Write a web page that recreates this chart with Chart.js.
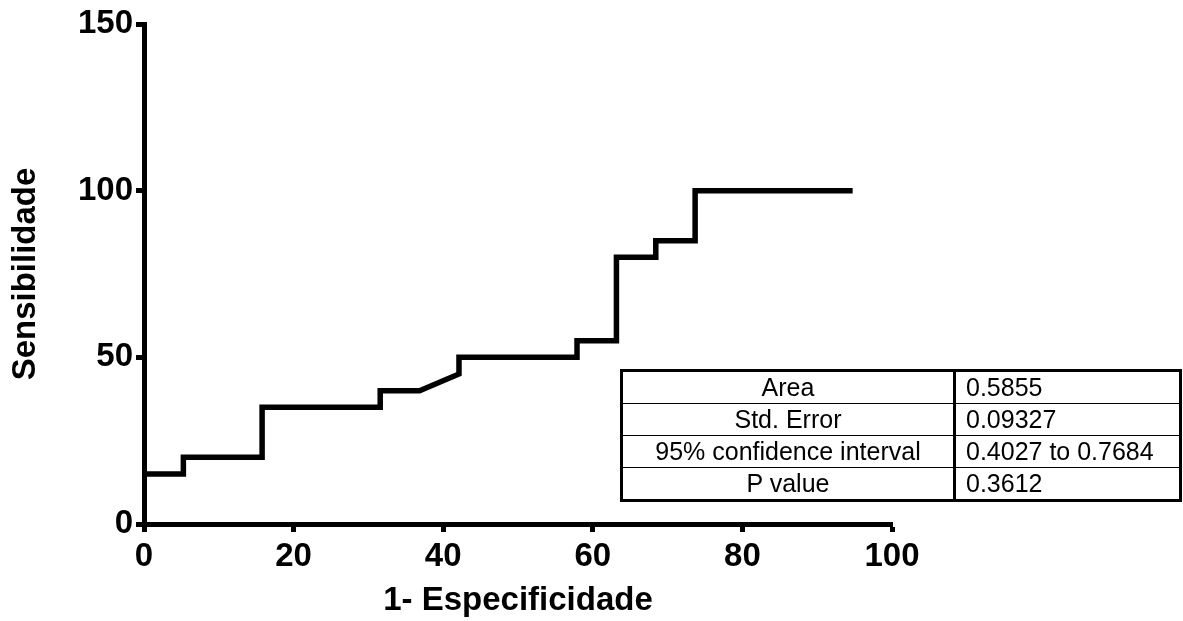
<!DOCTYPE html>
<html>
<head>
<meta charset="utf-8">
<script src="https://cdn.jsdelivr.net/npm/chart.js@4.4.0/dist/chart.umd.min.js"></script>
<style>
  body { margin: 0; background: #fff; }
  #wrap { position: relative; width: 1183px; height: 621px; }
  #roc { position: absolute; left: 0; top: 0; }
  #stats {
    position: absolute; left: 620px; top: 369px; width: 562px; height: 131px;
    border-collapse: collapse; border: 3px solid #000;
    font-family: Arial, "Liberation Sans", sans-serif; font-size: 25px; color: #000;
  }
  #stats td { border-top: 1.5px solid #000; padding: 0 10px; height: 31px; line-height: 31px; white-space: nowrap; }
  #stats td.lab { text-align: center; width: 310px; border-right: 3px solid #000; }
  #stats td.val { text-align: left; }
</style>
</head>
<body>
<div id="wrap">
  <canvas id="roc" width="1183" height="621"></canvas>
  <table id="stats"></table>
</div>
<script>
// 1 - especificidade (%) and sensibilidade (%) for each point of the ROC curve
var xValues = [0, 5.263, 5.263, 15.79, 15.79, 31.58, 31.58, 36.84, 42.11, 42.11, 57.89, 57.89, 63.16, 63.16, 68.42, 68.42, 73.68, 73.68, 94.74];
var yValues = [15, 15, 20, 20, 35, 35, 40, 40, 45, 50, 50, 55, 55, 80, 80, 85, 85, 100, 100];

var xTicks = [0, 20, 40, 60, 80, 100];
var yTicks = [0, 50, 100, 150];

var statLabels = ["Area", "Std. Error", "95% confidence interval", "P value"];
var statValues = ["0.5855", "0.09327", "0.4027 to 0.7684", "0.3612"];

var table = document.getElementById("stats");
table.innerHTML = statLabels.map((lab, i) => `
    <tr><td class="lab">${lab}</td><td class="val">${statValues[i]}</td></tr>
`).join('');

var points = xValues.map((x, i) => ({ x: x, y: yValues[i] }));

var tickFont = { family: 'Arial, "Liberation Sans", sans-serif', size: 33, weight: 'bold' };
var titleFont = { family: 'Arial, "Liberation Sans", sans-serif', size: 33, weight: 'bold' };

var ctx = document.getElementById('roc').getContext('2d');
new Chart(ctx, {
    type: 'scatter',
    data: {
        datasets: [{
            data: points,
            showLine: true,
            borderColor: '#000',
            borderWidth: 5.5,
            borderJoinStyle: 'miter',
            borderCapStyle: 'butt',
            pointRadius: 0,
            pointHoverRadius: 0,
            fill: false
        }]
    },
    options: {
        responsive: false,
        animation: false,
        layout: {
            padding: { top: 24, right: 291, left: 0, bottom: 0 }
        },
        plugins: {
            legend: { display: false },
            tooltip: { enabled: false }
        },
        scales: {
            x: {
                type: 'linear',
                min: 0,
                max: 100,
                afterFit: s => { s.height = 97; },
                afterBuildTicks: s => { s.ticks = xTicks.map(v => ({ value: v })); },
                border: { display: true, color: '#000', width: 5 },
                grid: { drawOnChartArea: false, drawTicks: true, tickLength: 8, tickWidth: 5, tickColor: '#000' },
                ticks: { color: '#000', font: tickFont, padding: 5, maxRotation: 0 },
                title: { display: true, text: '1- Especificidade', color: '#000', font: titleFont, padding: { top: 0, bottom: 0 } }
            },
            y: {
                type: 'linear',
                min: 0,
                max: 150,
                afterFit: s => { s.width = 144; },
                afterBuildTicks: s => { s.ticks = yTicks.map(v => ({ value: v })); },
                border: { display: true, color: '#000', width: 5 },
                grid: { drawOnChartArea: false, drawTicks: true, tickLength: 8, tickWidth: 5, tickColor: '#000' },
                ticks: { color: '#000', font: tickFont, padding: 3 },
                title: { display: true, text: 'Sensibilidade', color: '#000', font: titleFont, padding: { top: 6, bottom: 0 } }
            }
        }
    }
});
</script>
</body>
</html>
